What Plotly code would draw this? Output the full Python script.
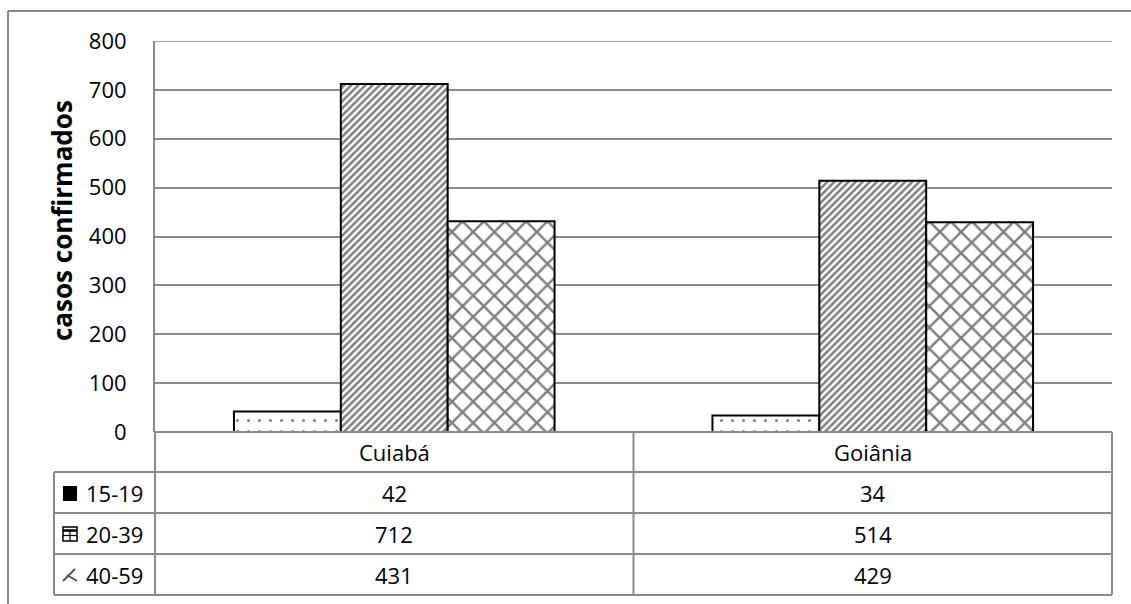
import plotly.graph_objects as go

# Data
cities = ["Cuiabá", "Goiânia"]
age_groups = ["15-19", "20-39", "40-59"]
cases_15_19 = [42, 34]
cases_20_39 = [712, 514]
cases_40_59 = [431, 429]
y_ticks = [0, 100, 200, 300, 400, 500, 600, 700, 800]

series = [cases_15_19, cases_20_39, cases_40_59]
patterns = [
    dict(shape=".", size=11, solidity=0.06, fgcolor="black", bgcolor="white"),
    dict(shape="/", size=5, solidity=0.5, fgcolor="black", bgcolor="white"),
    dict(shape="x", size=15, solidity=0.3, fgcolor="black", bgcolor="white"),
]

W, H = 1131, 604
L, R, T, B = 155, 1112, 41, 432  # plot area in pixels
FONT = "Open Sans"
GRID = "#8a8a8a"


def px(x):
    return (x - L) / (R - L)


def py(y):
    return (B - y) / (B - T)


fig = go.Figure()
for name, vals, pat in zip(age_groups, series, patterns):
    fig.add_trace(go.Bar(
        x=cities, y=vals, name=name,
        marker=dict(color="white", pattern=pat,
                    line=dict(color="black", width=2)),
        showlegend=False,
    ))

shapes = []


def line(x0, y0, x1, y1, color=GRID, width=2):
    shapes.append(dict(type="line", xref="paper", yref="paper",
                       x0=px(x0), y0=py(y0), x1=px(x1), y1=py(y1),
                       line=dict(color=color, width=width)))


# top gridline at the end of the value range
shapes.append(dict(type="line", xref="paper", yref="y", x0=0, x1=1,
                   y0=y_ticks[-1], y1=y_ticks[-1],
                   line=dict(color=GRID, width=1.5), layer="below"))

# outer chart border (left and top edges)
line(8, 11, 8, 620)
line(8, 11, 1140, 11)

# data table grid
row_y = [432, 472, 513, 554, 595]
line(L, 432, R, 432)
for yy in row_y[1:]:
    line(54, yy, R, yy)
line(54, 472, 54, 595)
line(L, 432, L, 595)
line((L + R) / 2, 432, (L + R) / 2, 595)
line(R, 432, R, 595)

annotations = []
tf = dict(family=FONT, size=22, color="black")


def text(x, xref, y, s, **kw):
    d = dict(x=x, xref=xref, y=y, yref="paper", text=s, showarrow=False,
             xanchor="center", yanchor="middle", font=tf)
    d.update(kw)
    annotations.append(d)


# category header row
for i, c in enumerate(cities):
    text(i, "x", py(452), c)

# value rows
for r, (name, vals) in enumerate(zip(age_groups, series)):
    yc = (row_y[r + 1] + row_y[r + 2]) / 2
    for i, v in enumerate(vals):
        text(i, "x", py(yc), str(v))
    text(px(84), "paper", py(yc), name, xanchor="left")

# legend keys in the table
shapes.append(dict(type="rect", xref="paper", yref="paper",
                   x0=px(63), x1=px(77), y0=py(501), y1=py(486),
                   fillcolor="black", line=dict(width=0)))
shapes.append(dict(type="rect", xref="paper", yref="paper",
                   x0=px(63), x1=px(77), y0=py(541), y1=py(527),
                   fillcolor="white", line=dict(color="black", width=1.5)))
line(63, 530.5, 77, 530.5, color="black", width=2.5)
line(63, 535.5, 77, 535.5, color="black", width=1.2)
line(70, 530, 70, 541, color="black", width=1.2)
line(63, 581, 75, 569, color="#555555", width=2)
line(67, 575, 77, 581, color="#555555", width=2)

# y axis title
text(px(62), "paper", py(221), "<b>casos confirmados</b>", textangle=-90,
     font=dict(family=FONT, size=26, color="black"))

fig.update_layout(
    width=W, height=H,
    margin=dict(l=L, r=W - R, t=T, b=H - B),
    plot_bgcolor="white", paper_bgcolor="white",
    barmode="group", bargap=0.33, bargroupgap=0,
    shapes=shapes, annotations=annotations,
    font=dict(family=FONT, color="black"),
)
fig.update_xaxes(showticklabels=False, showgrid=False, zeroline=False,
                 showline=False, ticks="")
fig.update_yaxes(range=[0, 800], tickvals=y_ticks, showgrid=True,
                 gridcolor=GRID, gridwidth=1.5, zeroline=False,
                 showline=True, linecolor=GRID, linewidth=2,
                 ticks="", ticklabelstandoff=22,
                 tickfont=dict(family=FONT, size=22, color="black"))

fig.write_html("out.html")
